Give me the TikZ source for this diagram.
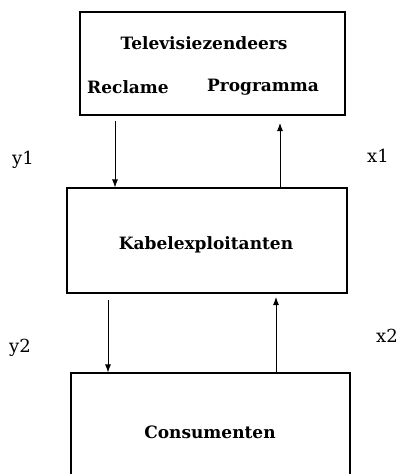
\documentclass[tikz,border=0pt]{standalone}
\usepackage{fontspec}
\setmainfont{DejaVu Serif}
\usetikzlibrary{arrows.meta,positioning}

\tikzset{
  blok/.style={draw, line width=1.1pt, inner sep=0pt},
  naam/.style={font=\fontsize{17}{19}\selectfont\bfseries},
  label/.style={font=\fontsize{18}{20}\selectfont},
  pijl/.style={-{Latex[length=8pt,width=6pt]}, line width=0.9pt}
}

\begin{document}
\begin{tikzpicture}[x=1pt, y=-1pt]
  \useasboundingbox (0,0) rectangle (404,474);
  % boxes
  \node[blok, minimum width=265pt, minimum height=103pt] (tv) at (212.5,63.5) {};
  \node[blok, minimum width=280pt, minimum height=105pt] (kabel) at (207,240.5) {};
  \node[blok, minimum width=279pt, minimum height=130pt] (cons) at (210.5,438) {};
  % texts
  \node[naam] (tvnaam) at (204,43) {Televisiezendeers};
  \node[naam] (reclame) at (128,87) {Reclame};
  \node[naam] (programma) at (263,87) {Programma};
  \node[naam] (kabelnaam) at (206,245) {Kabelexploitanten};
  \node[naam] (consnaam) at (210,432) {Consumenten};
  % flows
  \coordinate (y1s) at (115,121);
  \coordinate (x1e) at (280,123);
  \coordinate (y2s) at (108,300);
  \coordinate (x2e) at (276,297);
  \draw[pijl] (y1s) -- (y1s |- kabel.north);
  \draw[pijl] (x1e |- kabel.north) -- (x1e);
  \draw[pijl] (y2s) -- (y2s |- cons.north);
  \draw[pijl] (x2e |- cons.north) -- (x2e);
  \node[label] (y1) at (23,160) {y1};
  \node[label] (x1) at (378,156) {x1};
  \node[label] (y2) at (20,348) {y2};
  \node[label] (x2) at (387,336) {x2};
\end{tikzpicture}
\end{document}
